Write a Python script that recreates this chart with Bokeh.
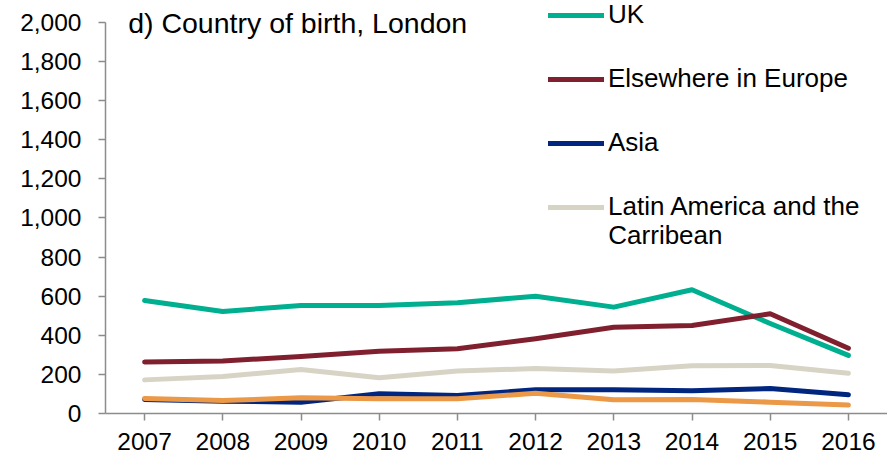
from bokeh.plotting import figure
from bokeh.models import (FactorRange, Range1d, FixedTicker, NumeralTickFormatter,
                          Legend, LegendItem, Label)
from bokeh.embed import file_html
from bokeh.resources import INLINE

years = ["2007", "2008", "2009", "2010", "2011", "2012", "2013", "2014", "2015", "2016"]
uk = [578, 522, 552, 552, 566, 600, 544, 633, 460, 297]
europe = [263, 268, 292, 319, 331, 382, 441, 450, 510, 334]
asia = [72, 63, 58, 101, 92, 121, 121, 116, 128, 96]
latin = [172, 189, 225, 183, 217, 230, 217, 244, 246, 206]
other = [77, 66, 80, 75, 75, 104, 70, 72, 58, 43]
y_ticks = [0, 200, 400, 600, 800, 1000, 1200, 1400, 1600, 1800, 2000]

FONT = "Liberation Sans"

# frame runs to the top of the canvas so the legend (clipped to the frame) can sit high;
# the axis itself is bounded to 0..2000
p = figure(width=887, height=459, output_backend="svg", toolbar_location=None,
           x_range=FactorRange(*years, range_padding=0), y_range=Range1d(0, 2112.5))
p.min_border_left = 105
p.min_border_right = 0
p.min_border_top = 0
p.min_border_bottom = 46
p.outline_line_color = None
p.xgrid.grid_line_color = None
p.ygrid.grid_line_color = None
p.background_fill_color = "white"
p.border_fill_color = "white"

series = [
    ("UK", uk, "#00AF8F"),
    ("Elsewhere in Europe", europe, "#80202F"),
    ("Asia", asia, "#00267F"),
    ("Latin America and the", latin, "#D7D4C6"),
    (None, other, "#EB9847"),
]
items = []
for name, vals, col in series:
    r = p.line(years, vals, line_color=col, line_width=5, line_cap="round", line_join="round")
    if name:
        items.append(LegendItem(label=name, renderers=[r]))

for ax in (p.xaxis[0], p.yaxis[0]):
    ax.axis_line_color = "#8C8C8C"
    ax.axis_line_width = 1.5
    ax.major_tick_line_color = "#8C8C8C"
    ax.major_tick_line_width = 1.5
    ax.major_tick_in = 0
    ax.major_tick_out = 7
    ax.minor_tick_line_color = None
    ax.major_label_text_font = FONT
    ax.major_label_text_font_size = "24.5px"
    ax.major_label_text_color = "black"

p.yaxis.ticker = FixedTicker(ticks=y_ticks)
p.yaxis.formatter = NumeralTickFormatter(format="0,0")
p.yaxis.bounds = (0, 2000)
p.yaxis.major_label_standoff = 17
p.xaxis.major_label_standoff = 12

legend = Legend(items=items, location=(443, 191), padding=0, margin=0,
                border_line_color=None, background_fill_alpha=0,
                glyph_width=56, glyph_height=30, label_height=30, spacing=33,
                label_standoff=4, label_text_font=FONT, label_text_font_size="26px",
                label_text_color="black")
p.add_layout(legend, "center")

p.add_layout(Label(x=6.43, y=911, text="Carribean", text_font=FONT, text_font_size="26px",
                   text_baseline="middle", text_color="black"))
p.add_layout(Label(x=0.29, y=1995, text="d) Country of birth, London", text_font=FONT,
                   text_font_size="28.5px", text_baseline="alphabetic", text_color="black"))

open("out.html", "w").write(file_html(p, INLINE))
